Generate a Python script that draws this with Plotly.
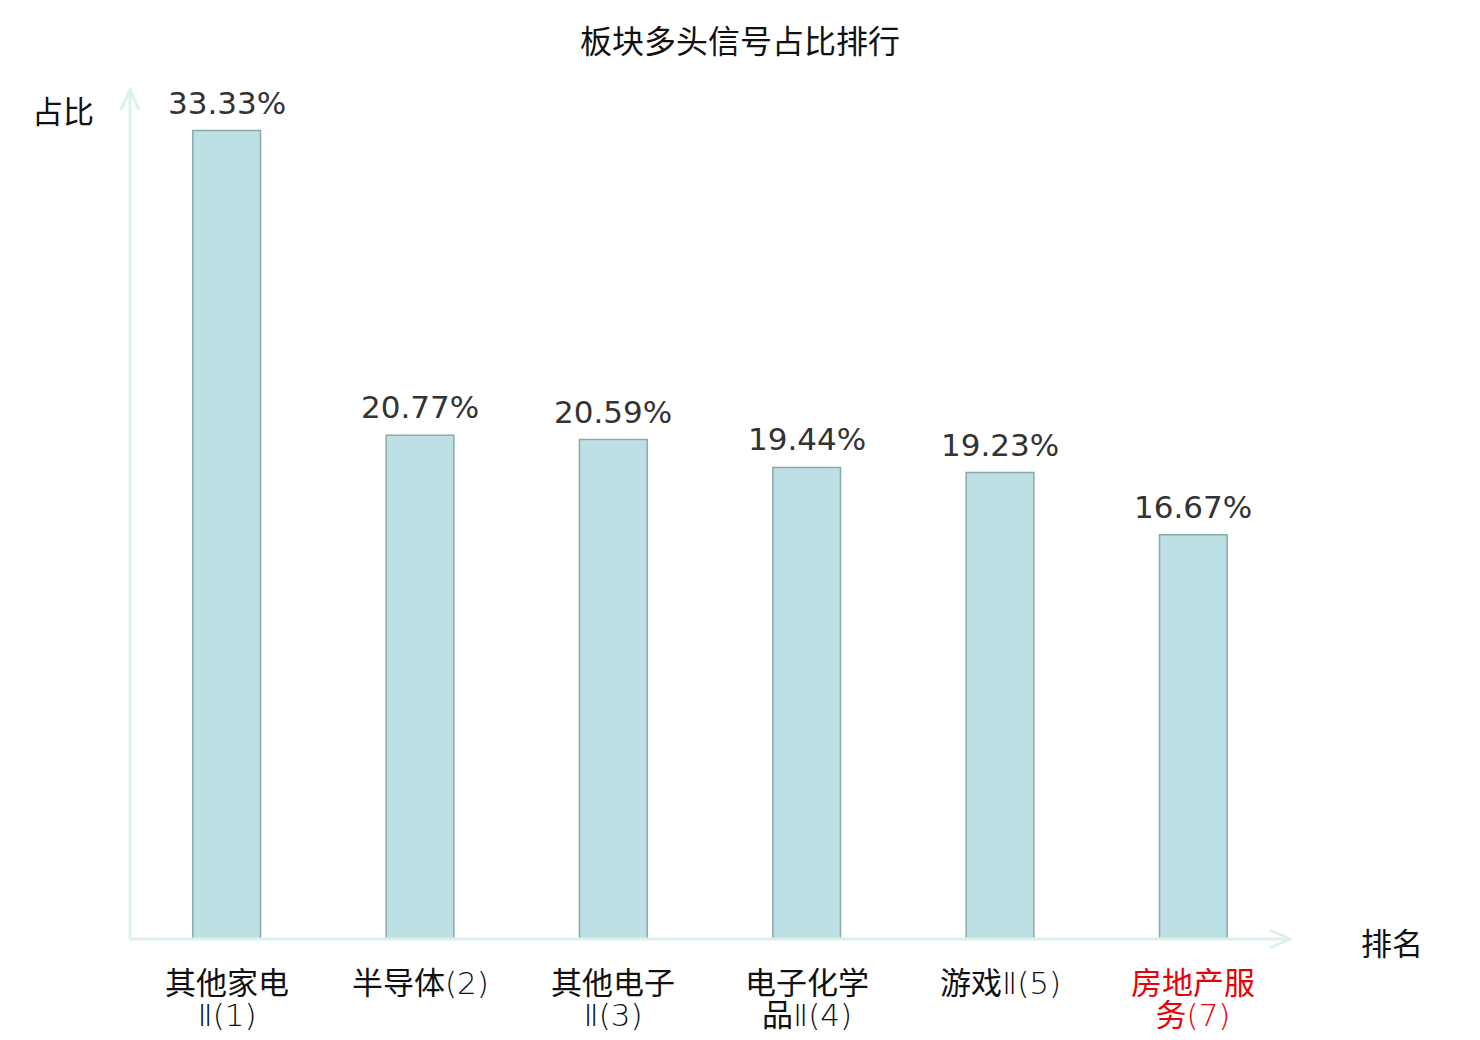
import plotly.graph_objects as go

categories = ["其他家电Ⅱ(1)", "半导体(2)", "其他电子Ⅱ(3)", "电子化学品Ⅱ(4)", "游戏Ⅱ(5)", "房地产服务(7)"]
tick_cjk1 = ["其他家电", "半导体", "其他电子", "电子化学", "游戏", "房地产服"]
tick_lat1 = ["", "(2)", "", "", "Ⅱ(5)", ""]
tick_cjk2 = ["", "", "", "品", "", "务"]
tick_lat2 = ["Ⅱ(1)", "", "Ⅱ(3)", "Ⅱ(4)", "", "(7)"]
tick_colors = ["#111111", "#111111", "#111111", "#111111", "#111111", "#e8000b"]
values = [33.33, 20.77, 20.59, 19.44, 19.23, 16.67]
value_labels = ["33.33%", "20.77%", "20.59%", "19.44%", "19.23%", "16.67%"]

W, H = 1480, 1040
ML, MR, MT, MB = 130, 190, 90, 101
PW, PH = W - ML - MR, H - MT - MB
AX = "#dcf1ee"
FONT = "DejaVu Sans, Noto Sans CJK SC"
CJK = "Noto Sans CJK SC"

fig = go.Figure(go.Bar(
    x=categories, y=values,
    marker=dict(color="#bce0e3", line=dict(color="#8ca8a9", width=1.5)),
    width=0.35, hoverinfo="x+y",
))

dx, dy = 9 / PW, 20 / PH
dx2, dy2 = 20 / PW, 9 / PH
shapes = [
    dict(type="line", xref="paper", yref="paper", x0=0, y0=0, x1=0, y1=1, line=dict(color=AX, width=3)),
    dict(type="line", xref="paper", yref="paper", x0=0, y0=0, x1=1, y1=0, line=dict(color=AX, width=3)),
    dict(type="path", xref="paper", yref="paper",
         path=f"M {-dx},{1-dy} L 0,1 L {dx},{1-dy}", line=dict(color=AX, width=3)),
    dict(type="path", xref="paper", yref="paper",
         path=f"M {1-dx2},{dy2} L 1,0 L {1-dx2},{-dy2}", line=dict(color=AX, width=3)),
]

annotations = [
    dict(text="占比", xref="paper", yref="paper", x=-67 / PW, y=1 - 20 / PH, xanchor="center",
         yanchor="middle", showarrow=False, font=dict(size=31, color="#111111", family=CJK)),
    dict(text="排名", xref="paper", yref="paper", x=1 + 102 / PW, y=-2 / PH, xanchor="center",
         yanchor="middle", showarrow=False, font=dict(size=31, color="#111111", family=CJK)),
]

LAT = "<span style='font-family:DejaVu Sans;font-weight:200'>{}</span>"


def line(cjk, lat):
    return cjk + (LAT.format(lat) if lat else "")


for cat, c1, l1, c2, l2, col in zip(categories, tick_cjk1, tick_lat1, tick_cjk2, tick_lat2, tick_colors):
    txt = line(c1, l1)
    second = line(c2, l2)
    if second:
        txt += "<br>" + second
    annotations.append(dict(text=f"<span style='font-size:31px'>{txt}</span>", x=cat, xref="x",
                            yref="paper", y=0, yshift=-17, xanchor="center", yanchor="top",
                            showarrow=False, font=dict(size=24.6, color=col, family=CJK)))

for cat, v, lab in zip(categories, values, value_labels):
    annotations.append(dict(text=lab, x=cat, y=v, xref="x", yref="y", yshift=28,
                            xanchor="center", yanchor="middle", showarrow=False,
                            font=dict(size=31, color="#333333", family=FONT)))

fig.update_layout(
    width=W, height=H,
    margin=dict(l=ML, r=MR, t=MT, b=MB),
    paper_bgcolor="white", plot_bgcolor="white",
    font=dict(family=FONT, color="#111111"),
    title=dict(text="板块多头信号占比排行", x=0.5, xanchor="center", y=1 - 42 / H, yanchor="middle",
               font=dict(size=32, color="#111111", family=CJK)),
    showlegend=False,
    shapes=shapes,
    xaxis=dict(showticklabels=False, showline=False, showgrid=False, zeroline=False, ticks="",
               range=[-0.5, 5.5]),
    yaxis=dict(range=[0, 35], showticklabels=False, showgrid=False, zeroline=False, showline=False, ticks=""),
    annotations=annotations,
)

fig.write_html("out.html", config={"displayModeBar": False},
               post_script="document.body.style.margin='0';")
